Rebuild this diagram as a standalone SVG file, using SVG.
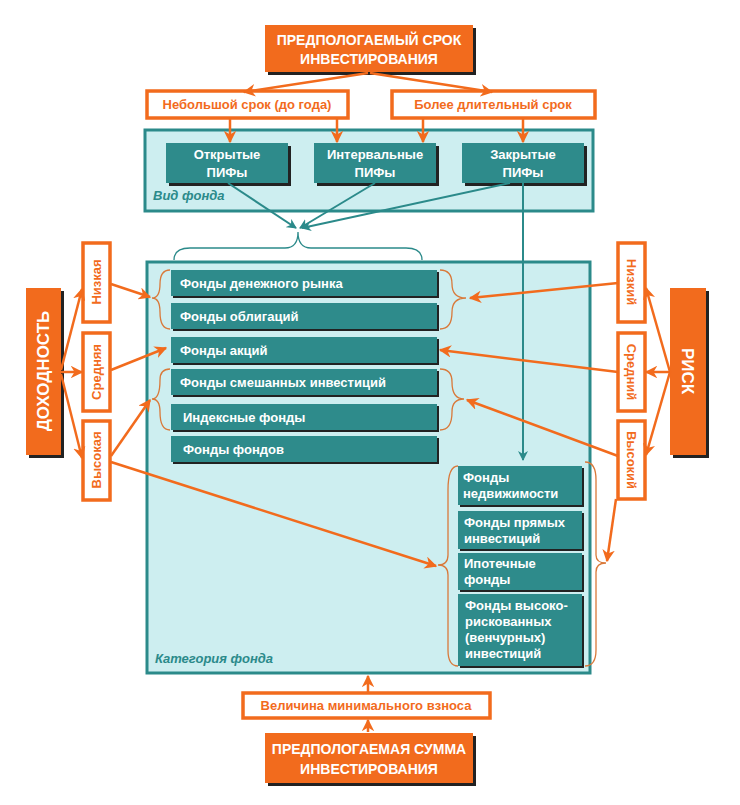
<svg xmlns="http://www.w3.org/2000/svg" width="740" height="805" viewBox="0 0 740 805">
<defs>
<marker id="oa" viewBox="0 0 10 10" refX="9" refY="5" markerWidth="5" markerHeight="5" orient="auto"><path d="M0,0 L10,5 L0,10 L3,5 z" fill="#f26b1d"/></marker>
<marker id="ta" viewBox="0 0 10 10" refX="9" refY="5" markerWidth="5" markerHeight="5" orient="auto"><path d="M0,0 L10,5 L0,10 L3,5 z" fill="#2b8a8a"/></marker>
</defs>
<style>
.big{fill:#f26b1d;stroke:#222;stroke-width:0}
.sh{fill:#222}
.ob{fill:#fff;stroke:#f26b1d;stroke-width:3.5}
.panel{fill:#cdeef0;stroke:#2b8a8a;stroke-width:3}
.tb{fill:#2e8b8b}
.wt{font-family:"Liberation Sans",Arial,sans-serif;font-weight:bold;fill:#fff;font-size:13px}
.wl{font-family:"Liberation Sans",Arial,sans-serif;font-weight:bold;fill:#fff;font-size:14px}
.ot{font-family:"Liberation Sans",Arial,sans-serif;font-weight:bold;fill:#f26b1d;font-size:13px}
.it{font-family:"Liberation Sans",Arial,sans-serif;font-weight:bold;font-style:italic;fill:#2b8a8a;font-size:13px}
.oc{stroke:#f26b1d;stroke-width:2.5;fill:none;marker-end:url(#oa)}
.tc{stroke:#2b8a8a;stroke-width:2;fill:none;marker-end:url(#ta)}
.br{stroke:#d9793a;stroke-width:1.3;fill:none}
.tbr{stroke:#2b8a8a;stroke-width:1.3;fill:none}
</style>
<g id="panels">
<rect class="panel" x="145" y="130" width="448" height="81"/>
<text class="it" x="153" y="200">Вид фонда</text>
<rect class="panel" x="147" y="262" width="443" height="411"/>
<text class="it" x="155" y="663">Категория фонда</text>
</g>
<g id="top">
<rect class="sh" x="268" y="28" width="208" height="47"/>
<rect class="big" x="265" y="25" width="208" height="47"/>
<text class="wl" x="369" y="45" text-anchor="middle">ПРЕДПОЛОГАЕМЫЙ СРОК</text>
<text class="wl" x="369" y="64" text-anchor="middle">ИНВЕСТИРОВАНИЯ</text>
</g>
<g id="short"><rect class="ob" x="147" y="91" width="201" height="27"/><text class="ot" x="247" y="109" text-anchor="middle">Небольшой срок (до года)</text></g>
<g id="long"><rect class="ob" x="392" y="91" width="203" height="27"/><text class="ot" x="493" y="109" text-anchor="middle">Более длительный срок</text></g>
<g id="open"><rect class="sh" x="169" y="146" width="122" height="40"/><rect class="tb" x="166" y="143" width="122" height="40"/><text class="wt" x="227" y="159" text-anchor="middle">Открытые</text><text class="wt" x="227" y="177" text-anchor="middle">ПИФы</text></g>
<g id="interval"><rect class="sh" x="317" y="146" width="122" height="40"/><rect class="tb" x="314" y="143" width="122" height="40"/><text class="wt" x="375" y="159" text-anchor="middle">Интервальные</text><text class="wt" x="375" y="177" text-anchor="middle">ПИФы</text></g>
<g id="closed"><rect class="sh" x="465" y="146" width="122" height="40"/><rect class="tb" x="462" y="143" width="122" height="40"/><text class="wt" x="523" y="159" text-anchor="middle">Закрытые</text><text class="wt" x="523" y="177" text-anchor="middle">ПИФы</text></g>
<g id="rows">
<rect class="sh" x="173" y="272" width="266" height="26"/><rect class="tb" x="171" y="270" width="266" height="26"/><text class="wt" x="180" y="288">Фонды денежного рынка</text>
<rect class="sh" x="173" y="305" width="266" height="26"/><rect class="tb" x="171" y="303" width="266" height="26"/><text class="wt" x="180" y="321">Фонды облигаций</text>
<rect class="sh" x="173" y="339" width="266" height="26"/><rect class="tb" x="171" y="337" width="266" height="26"/><text class="wt" x="180" y="355">Фонды акций</text>
<rect class="sh" x="173" y="371" width="266" height="26"/><rect class="tb" x="171" y="369" width="266" height="26"/><text class="wt" x="180" y="387">Фонды смешанных инвестиций</text>
<rect class="sh" x="173" y="406" width="266" height="26"/><rect class="tb" x="171" y="404" width="266" height="26"/><text class="wt" x="183" y="422">Индексные фонды</text>
<rect class="sh" x="173" y="438" width="266" height="26"/><rect class="tb" x="171" y="436" width="266" height="26"/><text class="wt" x="183" y="454">Фонды фондов</text>
</g>
<g id="rightcol">
<rect class="sh" x="460" y="468" width="124" height="39"/><rect class="tb" x="458" y="466" width="124" height="39"/><text class="wt" x="463" y="482">Фонды</text><text class="wt" x="463" y="498">недвижимости</text>
<rect class="sh" x="460" y="513" width="124" height="38"/><rect class="tb" x="458" y="511" width="124" height="38"/><text class="wt" x="464" y="527">Фонды прямых</text><text class="wt" x="464" y="543">инвестиций</text>
<rect class="sh" x="460" y="555" width="124" height="37"/><rect class="tb" x="458" y="553" width="124" height="37"/><text class="wt" x="464" y="568">Ипотечные</text><text class="wt" x="464" y="584">фонды</text>
<rect class="sh" x="460" y="596" width="124" height="72"/><rect class="tb" x="458" y="594" width="124" height="72"/><text class="wt" x="465" y="610">Фонды высоко-</text><text class="wt" x="465" y="626">рискованных</text><text class="wt" x="465" y="642">(венчурных)</text><text class="wt" x="465" y="658">инвестиций</text>
</g>
<g id="dohod">
<rect class="sh" x="29" y="291" width="35" height="167"/><rect class="big" x="26" y="288" width="35" height="167"/>
<text class="wl" font-size="17" transform="translate(49,371) rotate(-90)" text-anchor="middle" style="font-size:17px">ДОХОДНОСТЬ</text>
</g>
<g id="d-low"><rect class="ob" x="83" y="243" width="27" height="79"/><text class="ot" transform="translate(101,282) rotate(-90)" text-anchor="middle">Низкая</text></g>
<g id="d-mid"><rect class="ob" x="83" y="333" width="27" height="78"/><text class="ot" transform="translate(101,372) rotate(-90)" text-anchor="middle">Средняя</text></g>
<g id="d-high"><rect class="ob" x="83" y="421" width="27" height="79"/><text class="ot" transform="translate(101,460) rotate(-90)" text-anchor="middle">Высокая</text></g>
<g id="risk">
<rect class="sh" x="673" y="291" width="36" height="167"/><rect class="big" x="670" y="288" width="36" height="167"/>
<text class="wl" transform="translate(682,371) rotate(90)" text-anchor="middle" style="font-size:17px">РИСК</text>
</g>
<g id="r-low"><rect class="ob" x="618" y="243" width="27" height="79"/><text class="ot" transform="translate(627,282) rotate(90)" text-anchor="middle">Низкий</text></g>
<g id="r-mid"><rect class="ob" x="618" y="333" width="27" height="78"/><text class="ot" transform="translate(627,372) rotate(90)" text-anchor="middle">Средний</text></g>
<g id="r-high"><rect class="ob" x="618" y="421" width="27" height="78"/><text class="ot" transform="translate(627,460) rotate(90)" text-anchor="middle">Высокий</text></g>
<g id="minfee"><rect class="ob" x="243" y="693" width="247" height="25"/><text class="ot" x="366" y="710" text-anchor="middle">Величина минимального взноса</text></g>
<g id="bottom">
<rect class="sh" x="268" y="736" width="208" height="50"/><rect class="big" x="265" y="733" width="208" height="50"/>
<text class="wl" x="369" y="754" text-anchor="middle">ПРЕДПОЛОГАЕМАЯ СУММА</text>
<text class="wl" x="369" y="774" text-anchor="middle">ИНВЕСТИРОВАНИЯ</text>
</g>
<g id="braces">
<path class="tbr" d="M174,260 Q174,248 190,248 L285,248 Q298,248 298,232 Q298,248 311,248 L406,248 Q422,248 422,260"/>
<path class="br" d="M170,270 Q160,270 160,284 Q160,298 152,298 Q160,298 160,312 Q160,329 170,329"/>
<path class="br" d="M440,270 Q452,270 452,284 Q452,298 466,298 Q452,298 452,312 Q452,329 440,329"/>
<path class="br" d="M170,369 Q160,369 160,380 Q160,399 152,399 Q160,399 160,412 Q160,430 170,430"/>
<path class="br" d="M440,369 Q452,369 452,382 Q452,399 464,399 Q452,399 452,412 Q452,430 440,430"/>
<path class="br" d="M458,466 Q448,466 448,490 L448,555 Q448,565 438,565 Q448,565 448,575 L448,650 Q448,666 458,666"/>
<path class="br" d="M585,462 Q596,462 596,480 L596,555 Q596,563 606,563 Q596,563 596,572 L596,650 Q596,666 585,666"/>
</g>
<g id="connectors">
<path class="oc" d="M368,73 L244,92"/>
<path class="oc" d="M370,73 L492,92"/>
<path class="oc" d="M230,119 L230,142"/>
<path class="oc" d="M337,119 L337,142"/>
<path class="oc" d="M423,119 L423,142"/>
<path class="oc" d="M523,119 L523,142"/>
<path class="tc" d="M228,183 L296,228"/>
<path class="tc" d="M375,183 L300,228"/>
<path class="tc" d="M510,183 L302,228"/>
<path class="tc" d="M523,183 L523,460"/>
<path class="oc" d="M61,370 L82,289"/>
<path class="oc" d="M61,372 L82,372"/>
<path class="oc" d="M61,374 L82,458"/>
<path class="oc" d="M111,284 L150,297"/>
<path class="oc" d="M111,370 L166,348"/>
<path class="oc" d="M111,456 L150,400"/>
<path class="oc" d="M111,462 L436,566"/>
<path class="oc" d="M670,372 L646,288"/>
<path class="oc" d="M670,372 L646,372"/>
<path class="oc" d="M670,372 L646,455"/>
<path class="oc" d="M618,283 L470,298"/>
<path class="oc" d="M618,372 L440,350"/>
<path class="oc" d="M618,456 L467,400"/>
<path class="oc" d="M616,499 L607,561"/>
<path class="oc" d="M368,692 L368,676"/>
<path class="oc" d="M368,732 L368,720"/>
</g>
</svg>
